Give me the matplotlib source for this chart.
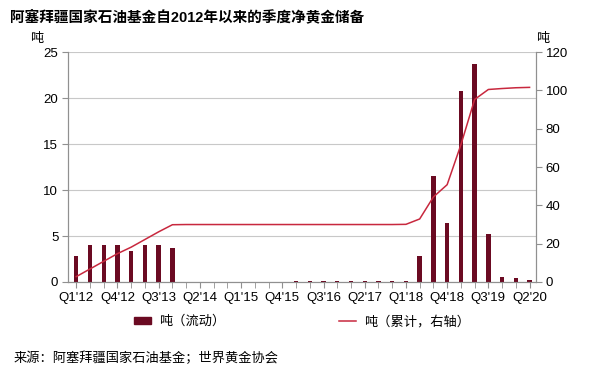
import matplotlib
matplotlib.use('Agg')
import matplotlib.pyplot as plt
from matplotlib.lines import Line2D
from matplotlib.patches import Patch

plt.rcParams['font.family'] = ['Liberation Sans', 'Noto Sans CJK SC', 'DejaVu Sans']

# quarters Q1'12 .. Q2'20
quarters = [f"Q{q}'{y}" for y in range(12, 21) for q in range(1, 5)][:34]

flow = [2.8, 4.0, 4.0, 4.0, 3.4, 4.0, 4.0, 3.7,
        0, 0, 0, 0, 0, 0, 0, 0,
        0.07, 0.07, 0.07, 0.07, 0.07, 0.07, 0.07, 0.07,
        0.07, 2.8, 11.5, 6.4, 20.8, 23.7, 5.2, 0.5, 0.4, 0.2]

cumulative = [2.8, 6.8, 10.8, 14.8, 18.2, 22.2, 26.2, 29.9,
              30.0, 30.0, 30.0, 30.0, 30.0, 30.0, 30.0, 30.0,
              30.0, 30.0, 30.0, 30.0, 30.0, 30.0, 30.0, 30.0,
              30.1, 32.9, 44.4, 50.8, 71.6, 95.3, 100.5, 101.0, 101.4, 101.6]

bar_color = '#6B0A22'
line_color = '#C8283E'
grid_color = '#C8C8C8'

fig = plt.figure(figsize=(6.04, 3.75), dpi=100)
ax = fig.add_axes([0.1126, 0.248, 0.7744, 0.613])
ax2 = ax.twinx()

x = list(range(len(quarters)))
ax.bar(x, flow, width=0.32, color=bar_color, zorder=3)
ax2.plot(x, cumulative, color=line_color, lw=1.1, zorder=4)

ax.set_xlim(-0.6, 33.45)
ax.set_ylim(0, 25)
ax.set_yticks([0, 5, 10, 15, 20, 25])
ax2.set_ylim(0, 120)
ax2.set_yticks([0, 20, 40, 60, 80, 100, 120])

ax.set_xticks(x, minor=True)
ax.set_xticks(x[::3])
ax.set_xticklabels(quarters[::3], fontsize=9.5)
ax.tick_params(axis='x', which='both', length=4, color='#909090', pad=3)
ax.tick_params(axis='y', length=4, color='#909090', labelsize=9.5, pad=3)
ax2.tick_params(axis='y', length=4, color='#909090', labelsize=9.5, pad=3)

ax.yaxis.grid(True, color=grid_color, lw=0.8, zorder=0)
for a in (ax, ax2):
    a.spines['top'].set_visible(False)
    for s in ('left', 'right', 'bottom'):
        a.spines[s].set_color('#909090')
        a.spines[s].set_linewidth(0.8)

fig.text(0.017, 0.955, '阿塞拜疆国家石油基金自2012年以来的季度净黄金储备',
         fontsize=10.5, fontweight='bold', ha='left', va='center')
fig.text(0.05, 0.897, '吨', fontsize=9.5, ha='left', va='center')
fig.text(0.888, 0.897, '吨', fontsize=9.5, ha='left', va='center')

handles = [Patch(color=bar_color, label='吨（流动）'),
           Line2D([], [], color=line_color, lw=1.1, label='吨（累计，右轴）')]
fig.legend(handles=handles, loc='center left', bbox_to_anchor=(0.222, 0.142), ncol=2,
           frameon=False, fontsize=9.5, columnspacing=8.6, handlelength=1.3,
           handleheight=0.5, handletextpad=0.6, borderpad=0, borderaxespad=0)

fig.text(0.022, 0.045, '来源：阿塞拜疆国家石油基金；世界黄金协会', fontsize=9.5,
         ha='left', va='center')

fig.savefig('out.png', dpi=100)
